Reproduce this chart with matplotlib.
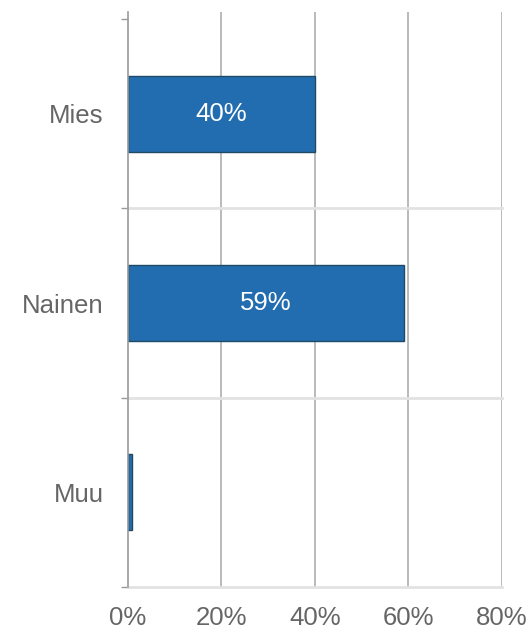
import matplotlib
matplotlib.use("Agg")
import matplotlib.pyplot as plt
from matplotlib.ticker import FixedLocator

plt.rcParams['font.family'] = ['Liberation Sans', 'DejaVu Sans']

categories = ["Mies", "Nainen", "Muu"]
values = [40, 59, 1]
xticks = [0, 20, 40, 60, 80]
xtick_labels = ["0%", "20%", "40%", "60%", "80%"]

W, H = 531, 631
fig = plt.figure(figsize=(W / 100, H / 100), dpi=100)
left, right = 127.7 / W, 501.7 / W
bottom, top = 1 - 587 / H, 1 - 12 / H
ax = fig.add_axes([left, bottom, right - left, top - bottom])

ypos = list(range(len(categories)))
bars = ax.barh(ypos, values, height=0.4, color="#226cb0", edgecolor="#1f4a66", linewidth=1.0, zorder=3)

for y, v in zip(ypos, values):
    if v >= 5:
        ax.text(v / 2, y, f"{v}%", ha="center", va="center", color="white", fontsize=18.5, zorder=4)

ax.set_xlim(0, 80)
ax.set_ylim(2.5, -0.5 - 7 / 189)

ax.set_xticks(xticks)
ax.set_xticklabels(xtick_labels)
ax.set_yticks(ypos)
ax.set_yticklabels(categories)
ax.yaxis.set_minor_locator(FixedLocator([-0.5, 0.5, 1.5, 2.5]))

ax.tick_params(axis="x", length=0, pad=14, labelsize=18.5, labelcolor="#666666")
ax.tick_params(axis="y", which="major", length=0, pad=17.5, labelsize=18.5, labelcolor="#666666")
ax.tick_params(axis="y", which="minor", length=5, width=1.0, color="#999999")

for s in ["top", "right", "bottom"]:
    ax.spines[s].set_visible(False)
ax.spines["left"].set_color("#999999")
ax.spines["left"].set_linewidth(1.2)
ax.spines["left"].set_zorder(5)

for x in xticks[1:]:
    ax.axvline(x, color="#b4b4b4", linewidth=1.3, zorder=1)
for yb in [0.5, 1.5, 2.5]:
    ax.axhline(yb, color="#e2e2e2", linewidth=2.0, zorder=2, clip_on=False)

fig.savefig("out.png", dpi=100)
